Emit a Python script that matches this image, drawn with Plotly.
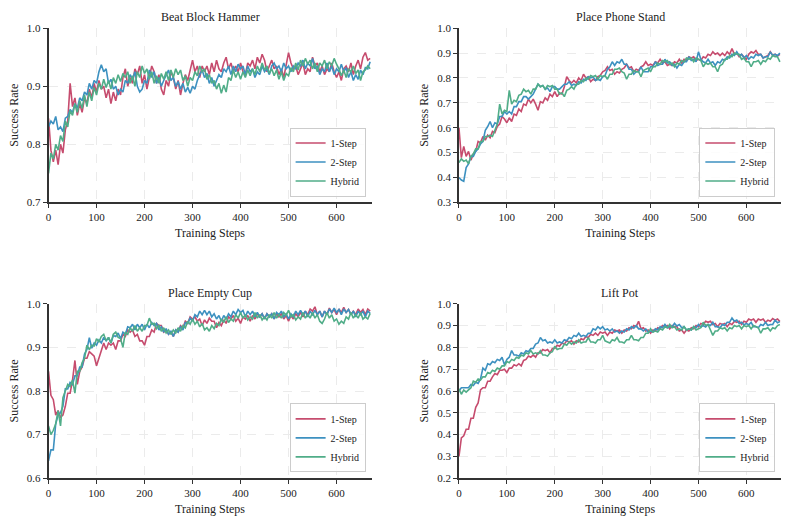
import numpy as np
import plotly.graph_objects as go

STEP = 5
TITLES = ["Beat Block Hammer", "Place Phone Stand", "Place Empty Cup", "Lift Pot"]
SERIES = ["1-Step", "2-Step", "Hybrid"]
COLORS = ["#c64c6e", "#3d91c0", "#50ad88"]
YRANGES = [(0.7, 1.0), (0.3, 1.0), (0.6, 1.0), (0.2, 1.0)]
YTICKS = [[0.7, 0.8, 0.9, 1.0],
          [0.3, 0.4, 0.5, 0.6, 0.7, 0.8, 0.9, 1.0],
          [0.6, 0.7, 0.8, 0.9, 1.0],
          [0.2, 0.3, 0.4, 0.5, 0.6, 0.7, 0.8, 0.9, 1.0]]
XTICKS = [0, 100, 200, 300, 400, 500, 600]

# success rate values (x1000), one value every 5 training steps
hammer_1step = [845,790,770,790,765,800,785,825,840,905,865,880,850,870,855,880,870,895,880,905,890,910,895,900,880,895,870,890,875,895,885,915,930,900,915,905,930,920,935,905,920,895,915,935,925,905,920,895,885,910,900,925,915,895,910,885,905,920,910,930,945,925,935,915,935,925,935,920,940,925,945,930,925,940,950,930,940,925,935,925,940,925,920,940,935,945,930,950,940,955,945,925,935,945,930,935,920,930,915,935,958,940,930,935,920,930,940,920,930,925,950,935,940,925,935,920,930,925,940,925,915,925,910,930,935,925,940,920,935,945,930,950,958,945,948]
hammer_2step = [830,840,835,848,825,830,822,845,848,860,855,870,862,880,875,890,885,905,895,910,905,925,937,925,930,905,912,895,900,885,895,890,910,905,920,912,925,900,890,895,910,905,928,915,925,905,915,900,910,920,928,910,915,900,908,895,905,890,898,888,900,895,910,920,928,915,922,905,915,900,910,920,915,930,925,935,920,935,925,938,930,935,920,935,925,930,915,925,920,935,925,930,920,935,940,930,935,925,940,930,935,925,935,930,940,935,945,930,940,935,948,930,935,920,930,925,940,925,935,920,930,925,938,925,932,915,925,910,920,912,928,920,932,930,942]
hammer_hybrid = [750,785,775,800,790,815,805,840,830,858,850,870,855,875,862,885,865,890,875,898,885,905,895,912,898,910,895,915,905,920,908,922,915,925,905,918,900,925,915,935,922,930,912,925,905,918,905,922,912,925,910,928,915,930,920,928,910,918,900,915,910,925,918,935,925,930,912,920,905,910,895,905,888,902,890,915,910,928,915,925,912,925,915,928,918,930,920,935,925,940,928,935,922,930,918,928,912,925,910,922,918,932,925,940,928,945,935,948,938,945,930,940,925,940,935,945,930,942,935,948,938,930,918,928,915,930,925,935,922,928,910,925,928,935,930]

phone_1step = [600,480,525,485,505,470,495,505,545,540,565,550,570,560,585,580,605,615,645,635,620,640,625,655,650,675,665,695,690,715,700,715,695,670,705,700,720,710,735,725,745,725,740,735,765,805,790,780,790,780,800,790,815,800,805,785,795,790,805,810,825,830,845,830,835,815,825,820,835,840,855,840,845,825,835,830,845,850,865,850,855,850,865,860,875,860,865,850,855,850,865,860,875,860,875,870,885,880,885,870,875,870,885,880,895,890,905,895,900,890,900,890,905,895,918,895,900,885,895,885,875,895,905,900,910,895,895,880,885,890,905,890,895,888,895]
phone_2step = [400,390,385,440,455,485,485,505,515,535,545,590,605,625,600,620,615,645,645,665,655,665,655,685,685,705,705,725,725,715,725,735,755,775,765,770,755,760,745,765,765,755,755,765,775,775,785,770,775,770,785,780,795,790,805,800,805,790,795,790,805,810,835,845,865,850,865,860,875,855,855,835,835,815,825,825,845,825,825,825,845,845,865,850,855,855,875,860,865,850,855,840,855,850,865,865,885,870,875,865,905,875,865,860,875,860,865,850,865,860,875,870,885,880,895,890,905,890,895,880,890,875,885,880,895,890,895,880,885,885,905,890,895,890,900]
phone_hybrid = [460,475,465,470,455,485,495,515,515,545,545,565,565,570,565,595,615,695,655,670,665,750,695,710,705,730,735,755,745,750,735,755,755,775,765,770,755,770,765,770,755,755,735,740,725,750,755,765,755,775,775,790,785,800,795,810,805,810,795,810,805,810,795,815,815,835,835,840,825,820,795,815,815,830,825,825,805,830,835,840,825,845,845,860,855,870,865,870,855,860,845,860,855,870,865,880,875,880,865,880,875,870,845,860,855,860,845,845,825,850,855,875,875,890,885,900,895,895,875,880,865,865,845,865,865,870,855,870,865,880,875,890,885,885,865]

cup_1step = [845,790,780,745,755,740,745,765,795,795,825,870,815,845,855,875,875,890,885,880,858,875,895,910,895,910,905,910,895,915,915,930,925,940,935,940,925,930,915,915,905,925,925,940,935,955,950,950,935,940,930,935,925,940,935,950,945,960,955,970,965,970,960,965,950,963,955,967,960,960,945,957,950,963,955,970,965,973,960,967,955,970,965,973,960,973,965,977,970,977,965,977,970,977,965,977,970,977,965,973,960,973,965,977,970,980,970,983,975,988,983,993,975,983,970,983,975,990,980,987,975,988,980,992,980,987,975,983,975,988,980,987,975,988,983]
cup_2step = [640,665,665,725,745,750,765,805,805,820,815,835,835,855,855,885,895,922,898,910,905,917,910,923,915,923,910,927,925,933,920,935,930,947,945,953,940,953,945,953,940,953,945,957,950,955,940,947,935,943,930,937,925,940,935,947,940,957,955,967,960,975,970,983,975,985,975,983,970,977,965,973,960,973,965,977,970,983,975,987,980,985,970,983,975,983,970,980,970,977,965,977,970,977,965,980,975,983,970,977,965,977,970,983,975,985,975,983,970,983,975,985,975,983,970,983,975,988,980,990,980,987,975,988,980,987,975,983,970,983,975,983,970,983,978]
cup_hybrid = [720,700,710,725,755,720,785,800,815,810,825,795,845,845,865,875,905,895,905,903,920,913,925,930,915,923,910,930,935,923,920,900,935,930,945,937,950,937,945,937,950,950,967,953,955,943,950,937,945,933,940,930,940,933,945,937,950,945,960,953,965,953,960,947,955,940,945,937,950,943,955,950,965,957,970,957,965,960,975,967,980,967,975,963,970,965,980,967,975,963,970,963,975,967,980,967,975,967,980,973,985,970,975,963,970,965,980,967,975,967,980,967,975,960,955,965,980,967,975,960,965,953,960,955,970,965,980,967,975,967,980,965,970,965,978]

pot_1step = [300,385,395,425,425,475,475,525,545,605,615,615,645,645,665,680,675,695,695,700,685,705,705,720,715,725,715,740,745,760,755,765,755,775,775,790,785,790,775,795,795,810,805,820,815,830,825,830,815,830,825,840,835,850,845,860,855,865,855,870,865,870,855,870,865,880,875,880,865,880,875,890,885,900,895,920,885,890,875,880,865,880,875,890,885,900,895,900,885,900,895,895,875,880,865,880,875,890,885,900,895,910,905,920,915,920,905,910,895,910,905,910,895,910,905,920,915,920,905,920,915,930,925,930,915,930,925,930,915,925,920,932,925,930,918]
pot_2step = [600,615,615,615,615,630,625,640,635,655,705,695,725,720,735,730,745,740,755,720,745,755,785,765,765,760,775,770,785,780,795,795,815,820,845,830,835,820,825,820,835,820,825,820,835,830,845,840,855,850,865,850,855,850,865,865,885,880,895,885,895,880,885,875,885,870,875,865,875,870,885,880,895,888,900,885,885,875,885,870,875,870,885,880,895,890,905,890,895,895,910,898,905,890,895,880,885,880,895,890,905,893,900,893,905,900,915,895,895,890,905,900,915,915,935,920,925,910,915,903,910,903,915,895,895,890,905,900,915,900,905,905,925,913,918]
pot_hybrid = [610,585,605,595,605,615,645,640,655,650,665,665,685,680,695,690,705,700,715,715,735,730,745,740,755,750,765,760,775,770,785,770,775,770,785,765,765,760,775,780,805,790,795,795,815,810,825,815,825,820,835,820,825,825,845,825,825,820,835,835,855,830,825,820,835,830,845,825,825,820,835,835,855,835,835,830,845,845,865,865,885,870,875,870,885,880,895,890,905,890,895,880,885,880,895,880,885,880,895,880,885,890,915,900,905,875,855,875,875,890,885,890,875,890,885,900,895,900,885,900,895,900,885,900,895,890,865,885,885,890,875,890,885,900,905]

PANELS = [
    [hammer_1step, hammer_2step, hammer_hybrid],
    [phone_1step, phone_2step, phone_hybrid],
    [cup_1step, cup_2step, cup_hybrid],
    [pot_1step, pot_2step, pot_hybrid],
]

W, H = 788, 526
# plot-area pixel boxes (left, right, top, bottom)
BOXES = [(45.7, 370.0, 22.7, 201.0), (457.7, 781.3, 22.7, 201.0),
         (45.7, 370.0, 304.7, 483.3), (457.7, 781.3, 304.7, 483.3)]

FONT = "Liberation Serif, Times New Roman, serif"
fig = go.Figure()
layout = dict(
    width=W, height=H, margin=dict(l=0, r=0, t=0, b=0),
    paper_bgcolor="white", plot_bgcolor="white",
    font=dict(family=FONT, size=11, color="#222222"),
    annotations=[],
)

for i, (series_list, title) in enumerate(zip(PANELS, TITLES)):
    n = i + 1
    suf = "" if n == 1 else str(n)
    leg = "legend" if n == 1 else f"legend{n}"
    for name, vals, col in zip(SERIES, series_list, COLORS):
        y = np.array(vals) / 1000.0
        x = np.arange(len(y)) * STEP
        fig.add_trace(go.Scatter(
            x=x, y=y, mode="lines", name=name,
            line=dict(color=col, width=1.6),
            xaxis=f"x{suf}", yaxis=f"y{suf}", legend=leg,
        ))
    l, r, t, b = BOXES[i]
    axis_common = dict(
        showline=True, linecolor="#333333", linewidth=1.6,
        ticks="outside", ticklen=4, tickwidth=1, tickcolor="#333333",
        showgrid=True, gridcolor="#ebebeb", griddash="dash", gridwidth=0.7,
        zeroline=False, tickfont=dict(family=FONT, size=11, color="#222222"),
    )
    layout[f"xaxis{suf}"] = dict(
        axis_common, domain=[l / W, r / W], anchor=f"y{suf}",
        range=[0, 673], tickvals=XTICKS,
        title=dict(text="Training Steps", font=dict(family=FONT, size=12, color="#222222"), standoff=6),
    )
    layout[f"yaxis{suf}"] = dict(
        axis_common, domain=[1 - b / H, 1 - t / H], anchor=f"x{suf}",
        range=list(YRANGES[i]), tickvals=YTICKS[i],
        ticktext=[f"{v:.1f}" for v in YTICKS[i]],
        title=dict(text="Success Rate", font=dict(family=FONT, size=12, color="#222222"), standoff=6),
    )
    layout[leg] = dict(
        x=(r - 6) / W, y=1 - (b - 6) / H, xanchor="right", yanchor="bottom",
        bgcolor="rgba(255,255,255,0.85)", bordercolor="#cccccc", borderwidth=1,
        font=dict(family=FONT, size=10, color="#222222"),
        tracegroupgap=0, itemwidth=30,
    )
    layout["annotations"].append(dict(
        text=title, x=(l + r) / 2 / W, y=1 - (t - 11) / H,
        xref="paper", yref="paper", showarrow=False,
        xanchor="center", yanchor="middle",
        font=dict(family=FONT, size=12, color="#222222"),
    ))

fig.update_layout(**layout)
fig.write_html("out.html")
